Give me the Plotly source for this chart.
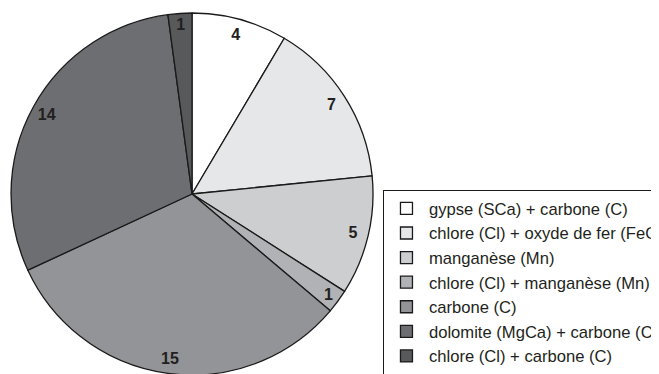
import plotly.graph_objects as go

# données
categories = [
    "gypse (SCa) + carbone (C)",
    "chlore (Cl) + oxyde de fer (FeO)",
    "manganèse (Mn)",
    "chlore (Cl) + manganèse (Mn)",
    "carbone (C)",
    "dolomite (MgCa) + carbone (C)",
    "chlore (Cl) + carbone (C)",
]
valeurs = [4, 7, 5, 1, 15, 14, 1]
couleurs = ["#ffffff", "#e6e7e8", "#cdcecf", "#b1b2b5", "#939497", "#6d6e71", "#58595b"]

# la page ajoute une marge de 8px : on décale tout de -8px
dom = dict(x=[0.0046, 0.5539], y=[0.0187, 0.9866])

fig = go.Figure()
# camembert principal
fig.add_trace(go.Pie(
    labels=categories, values=valeurs, sort=False, direction="clockwise",
    marker=dict(colors=couleurs, line=dict(color="#1a1a1a", width=1.3)),
    textinfo="none", domain=dom, hoverinfo="label+value",
))
# anneau transparent pour placer les valeurs près du bord
fig.add_trace(go.Pie(
    labels=categories, values=valeurs, sort=False, direction="clockwise",
    hole=0.83, marker=dict(colors=["rgba(0,0,0,0)"] * len(valeurs), line=dict(width=0)),
    texttemplate="<b>%{value}</b>", textposition="inside",
    insidetextorientation="horizontal",
    textfont=dict(family="Liberation Sans, Arial", size=16, color="#231f20"),
    showlegend=False, domain=dom, hoverinfo="skip",
))

fig.update_layout(
    width=659, height=374,
    margin=dict(t=0, l=0, r=0, b=0, autoexpand=False),
    paper_bgcolor="white",
    legend=dict(
        x=0.569, y=0.513, xanchor="left", yanchor="top",
        bordercolor="#1a1a1a", borderwidth=1, itemwidth=35,
        font=dict(family="Liberation Sans, Arial", size=16.6, color="#231f20"),
        traceorder="normal",
    ),
)

fig.write_html("out.html")
